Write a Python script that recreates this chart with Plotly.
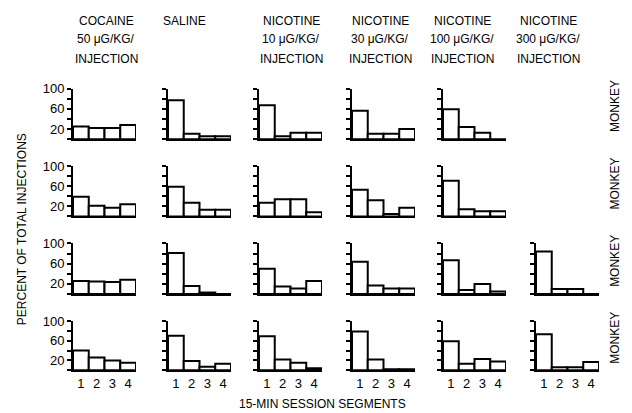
import plotly.graph_objects as go

# ---------------- data ----------------
segments = [1, 2, 3, 4]
segment_labels = ["1", "2", "3", "4"]
y_ticks = [0, 20, 40, 60, 80, 100]
y_tick_labels = ["", "20", "", "60", "", "100"]

header_line1 = ["COCAINE", "SALINE", "NICOTINE", "NICOTINE", "NICOTINE", "NICOTINE"]
header_line2 = ["50 \u03bcG/KG/", "", "10 \u03bcG/KG/", "30 \u03bcG/KG/", "100 \u03bcG/KG/", "300 \u03bcG/KG/"]
header_line3 = ["INJECTION", "", "INJECTION", "INJECTION", "INJECTION", "INJECTION"]

# percent of total injections per 15-min segment, one list per monkey (row)
cocaine_50 = [[25, 22, 22, 28], [39, 21, 17, 24], [26, 25, 24, 28], [40, 26, 20, 15]]
saline = [[77, 11, 6, 6], [59, 27, 13, 13], [81, 16, 3, 0], [70, 19, 7, 13]]
nicotine_10 = [[67, 6, 13, 13], [27, 34, 34, 8], [50, 15, 11, 26], [69, 22, 15, 4]]
nicotine_30 = [[56, 11, 11, 20], [53, 32, 5, 17], [64, 17, 11, 11], [79, 22, 2, 2]]
nicotine_100 = [[59, 24, 13, 0], [71, 14, 10, 10], [67, 8, 20, 5], [59, 13, 23, 18]]
nicotine_300 = [None, None, [84, 10, 10, 0], [73, 6, 6, 17]]

columns = [cocaine_50, saline, nicotine_10, nicotine_30, nicotine_100, nicotine_300]

# ---------------- layout geometry (pixels) ----------------
W, H = 632, 413
col_left = [73, 168, 259, 352, 443, 536]
col_width = 63
rows_px = [(83, 134.5), (162, 213), (240.5, 292), (319.5, 369.5)]
header_x = [106, 184, 291, 380, 462, 548]
header_y = [14, 33, 53]

FONT = "Liberation Sans, Arial, sans-serif"

fig = go.Figure()
layout = {}
n = 0
for c, col in enumerate(columns):
    for r, vals in enumerate(col):
        if vals is None:
            continue
        n += 1
        sfx = "" if n == 1 else str(n)
        fig.add_trace(go.Bar(
            x=segments, y=vals, width=1,
            marker=dict(color="white", line=dict(color="black", width=2)),
            xaxis="x" + sfx, yaxis="y" + sfx, showlegend=False,
            hoverinfo="skip",
        ))
        top, base = rows_px[r]
        layout["xaxis" + sfx] = dict(
            domain=[col_left[c] / W, (col_left[c] + col_width) / W],
            anchor="y" + sfx, range=[0.5, 4.5],
            showline=True, linecolor="black", linewidth=2,
            showgrid=False, zeroline=False, ticks="",
            tickvals=segments, ticktext=segment_labels,
            showticklabels=(r == 3), fixedrange=True,
            tickfont=dict(family=FONT, size=13, color="black"),
        )
        layout["yaxis" + sfx] = dict(
            domain=[1 - base / H, 1 - top / H],
            anchor="x" + sfx, range=[0, 100],
            showline=True, linecolor="black", linewidth=2,
            showgrid=False, zeroline=False,
            ticks="outside", ticklen=4, tickwidth=2, tickcolor="black",
            tickvals=y_ticks, ticktext=y_tick_labels,
            showticklabels=(c == 0), fixedrange=True,
            tickfont=dict(family=FONT, size=13, color="black"),
        )

annotations = []
for c in range(6):
    for line, texts in enumerate([header_line1, header_line2, header_line3]):
        if texts[c]:
            annotations.append(dict(
                text=texts[c], x=header_x[c] / W, y=1 - header_y[line] / H,
                xref="paper", yref="paper", xanchor="center", yanchor="middle",
                showarrow=False, font=dict(family=FONT, size=12, color="black"),
            ))
for r, (top, base) in enumerate(rows_px):
    annotations.append(dict(
        text="MONKEY", x=615 / W, y=1 - ((top + base) / 2 - 8) / H,
        xref="paper", yref="paper", xanchor="center", yanchor="middle",
        textangle=-90, showarrow=False,
        font=dict(family=FONT, size=12, color="black"),
    ))
annotations.append(dict(
    text="PERCENT OF TOTAL INJECTIONS", x=22 / W, y=1 - 226 / H,
    xref="paper", yref="paper", xanchor="center", yanchor="middle",
    textangle=-90, showarrow=False,
    font=dict(family=FONT, size=12, color="black"),
))
annotations.append(dict(
    text="15-MIN SESSION SEGMENTS", x=323 / W, y=1 - 404 / H,
    xref="paper", yref="paper", xanchor="center", yanchor="middle",
    showarrow=False, font=dict(family=FONT, size=12, color="black"),
))

fig.update_layout(
    width=W, height=H, margin=dict(l=0, r=0, t=0, b=0),
    paper_bgcolor="white", plot_bgcolor="white",
    showlegend=False, bargap=0, annotations=annotations, **layout,
)

fig.write_html(
    "out.html",
    config={"displayModeBar": False, "staticPlot": True},
    post_script="document.body.style.margin='0';document.body.style.overflow='hidden';",
)
